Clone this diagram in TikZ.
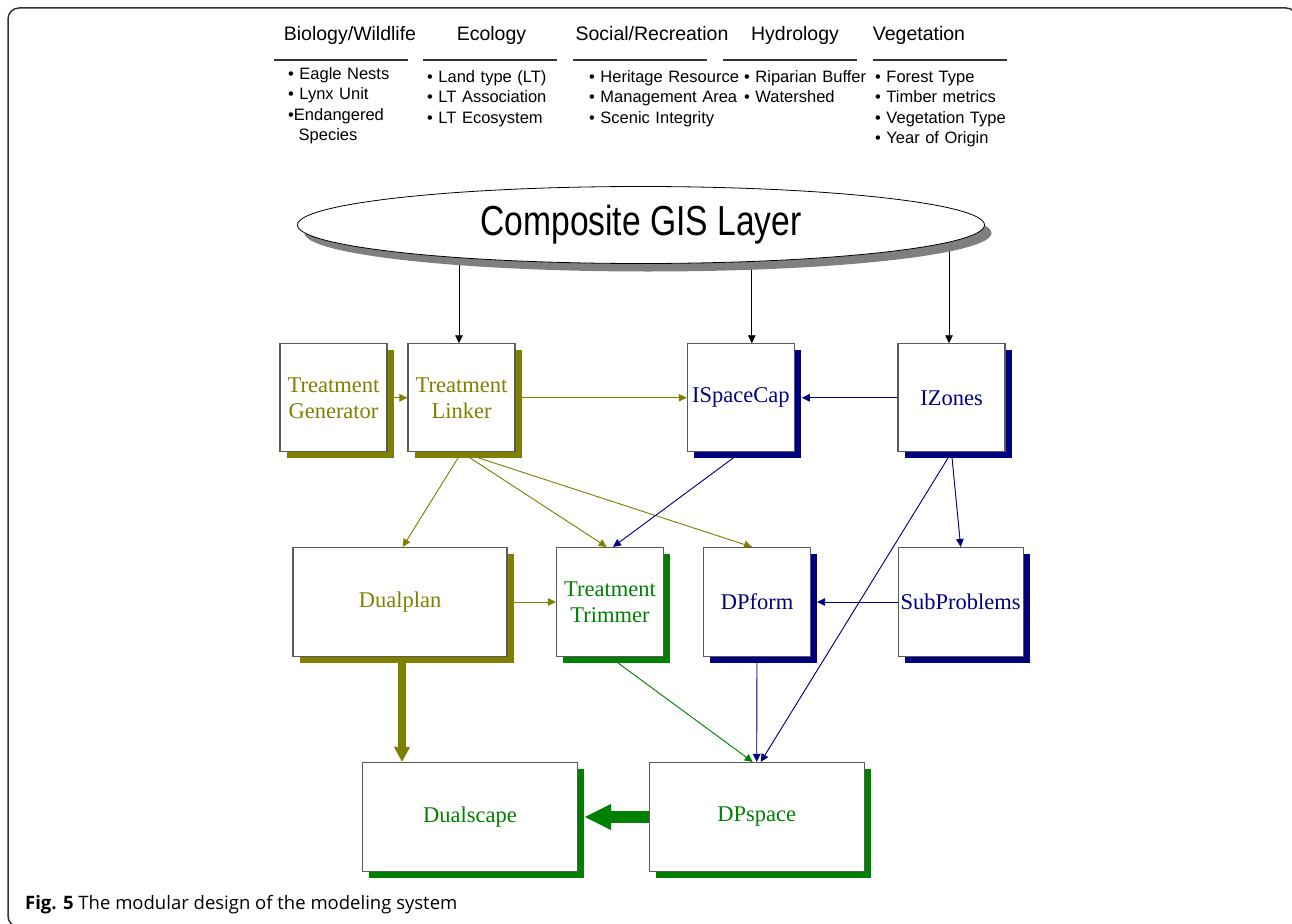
\documentclass[tikz,border=0pt]{standalone}
\usepackage{fontspec}
\setmainfont{Liberation Serif}
\newfontfamily\arialf{Liberation Sans}
\newfontfamily\capf{Open Sans}
\usetikzlibrary{arrows.meta,shapes.geometric,shadows}
\definecolor{olivec}{HTML}{808000}
\definecolor{navyc}{HTML}{000080}
\definecolor{greenc}{HTML}{008000}
\definecolor{framec}{HTML}{333333}
\definecolor{edgec}{HTML}{5A5A5A}
\definecolor{shadowgray}{HTML}{7F7F7F}

\pgfdeclarelayer{links}
\pgfsetlayers{links,main}

\tikzset{
  module/.style={draw=edgec, line width=1.1pt, fill=white, inner sep=0pt,
    minimum width=107pt, minimum height=108pt, align=center,
    font=\fontsize{22.5}{26}\selectfont},
  olivebox/.style={module, text=olivec,
    general shadow={fill=olivec, shadow xshift=6.5pt, shadow yshift=-6.5pt}},
  navybox/.style={module, text=navyc,
    general shadow={fill=navyc, shadow xshift=6.5pt, shadow yshift=-6.5pt}},
  greenbox/.style={module, text=greenc,
    general shadow={fill=greenc, shadow xshift=6.5pt, shadow yshift=-6.5pt}},
  hdr/.style={anchor=base, inner sep=0pt, font=\arialf\fontsize{19.5}{22}\selectfont},
  lst/.style={anchor=base west, inner sep=0pt, text width=150pt, align=left,
    font=\arialf\fontsize{16.5}{20.5}\selectfont},
  rule/.style={draw=framec, line width=1.1pt},
  link/.style={line width=0.9pt, -{Triangle[length=8pt,width=7.5pt]}},
  oliveline/.style={link, draw=olivec, fill=olivec},
  navyline/.style={link, draw=navyc, fill=navyc},
  greenline/.style={link, draw=greenc, fill=greenc},
  blackline/.style={link, draw=black, fill=black},
}

\begin{document}
\begin{tikzpicture}[x=1pt,y=-1pt]
\useasboundingbox (0,0) rectangle (1292,923);
\clip (0,0) rectangle (1292,923);

% outer frame
\draw[framec, line width=1.5pt, rounded corners=11pt] (8,8) rectangle (1297,927);

% data themes
\node[hdr] (hbio) at (350,40.5) {Biology/Wildlife};
\node[hdr] (heco) at (491.5,40.5) {Ecology};
\node[hdr] (hsoc) at (652,40.5) {Social/Recreation};
\node[hdr] (hhyd) at (795,40.5) {Hydrology};
\node[hdr] (hveg) at (919,40.5) {Vegetation};

\draw[rule] (274,60) -- (408,60);
\draw[rule] (423,60) -- (557,60);
\draw[rule] (573,60) -- (707,60);
\draw[rule] (723,60) -- (857,60);
\draw[rule] (873,60) -- (1007,60);

\node[lst] (lbio) at (288,79.5) {• Eagle Nests\\• Lynx Unit\\•Endangered\\\hspace*{10.5pt}Species};
\node[lst] (leco) at (427,82.5) {• Land type (LT)\\• LT Association\\• LT Ecosystem};
\node[lst] (lsoc) at (589,82.5) {• Heritage Resource\\• Management Area\\• Scenic Integrity};
\node[lst, text width=130pt] (lhyd) at (744,82.5) {• Riparian Buffer\\• Watershed};
\node[lst] (lveg) at (875,82.5) {• Forest Type\\• Timber metrics\\• Vegetation Type\\• Year of Origin};

% composite layer
\node[ellipse, draw=black, line width=0.8pt, fill=white, inner sep=0pt,
      minimum width=687pt, minimum height=77pt,
      general shadow={fill=shadowgray, shadow xshift=7pt, shadow yshift=-8pt},
      font=\arialf\fontsize{42}{46}\selectfont] (gis) at (641,225)
      {\scalebox{0.8}[1]{Composite GIS Layer}};

% modules
\node[olivebox] (gen)    at (333.5,397.8) {Treatment\\Generator};
\node[olivebox] (linker) at (461.5,397.8) {Treatment\\Linker};
\node[navybox]  (ispace) at (740.8,397.8) {ISpaceCap};
\node[navybox]  (izones) at (951.5,397.8) {IZones};

\node[olivebox, minimum width=214pt, minimum height=109pt] (dualplan) at (400,602) {Dualplan};
\node[greenbox, minimum height=109pt] (trimmer) at (610,602) {Treatment\\Trimmer};
\node[navybox, minimum height=109pt] (dpform) at (757,602) {DPform};
\node[navybox, minimum width=125pt, minimum height=109pt] (subp) at (960.7,602) {SubProblems};

\node[greenbox, minimum width=215pt, minimum height=109pt] (dualscape) at (470,817) {Dualscape};
\node[greenbox, minimum width=215pt, minimum height=109pt] (dpspace) at (756.7,817) {DPspace};

% connectors, kept underneath the boxes
\begin{pgfonlayer}{links}
  \draw[blackline] ([xshift=-2.5pt]linker.north |- gis.center) -- ([xshift=-2.5pt]linker.north);
  \draw[blackline] ([xshift=11pt]ispace.north |- gis.center) -- ([xshift=11pt]ispace.north);
  \draw[blackline] ([xshift=-2.5pt]izones.north |- gis.center) -- ([xshift=-2.5pt]izones.north);

  \draw[oliveline] (gen.east) -- (linker.west);
  \draw[oliveline] (linker.east) -- (ispace.west);
  \draw[oliveline] (linker.south) -- ([xshift=2.7pt]dualplan.north);
  \draw[oliveline] (linker.south) -- ([xshift=-3.3pt]trimmer.north);
  \draw[oliveline] (linker.south) -- ([xshift=-5pt]dpform.north);
  \draw[oliveline] (dualplan.east) -- (trimmer.west);

  \draw[navyline] (izones.west) -- ([xshift=7pt]ispace.east);
  \draw[navyline] (ispace.south) -- ([xshift=3pt]trimmer.north);
  \draw[navyline] (izones.south) -- (subp.north);
  \draw[navyline] (izones.south) -- ([xshift=4pt]dpspace.north);
  \draw[navyline] (subp.west) -- ([xshift=6pt]dpform.east);
  \draw[navyline] (dpform.south) -- (dpspace.north);

  \draw[greenline] (trimmer.south) -- ([xshift=-4pt]dpspace.north);

  \draw[draw=olivec, fill=olivec, line width=7.5pt,
        -{Triangle[length=15pt,width=15pt]}]
        ([xshift=2pt]dualplan.south) -- ([xshift=2pt]dualplan.south |- dualscape.north);
  \draw[draw=greenc, fill=greenc, line width=11.5pt,
        -{Triangle[length=27pt,width=24pt]}]
        (dpspace.west) -- ([xshift=6pt]dpspace.west -| dualscape.east);
\end{pgfonlayer}

% caption
\node[anchor=base west, inner sep=0pt, font=\capf\fontsize{18.5}{22}\selectfont] (cap) at (25,909.5)
  {\textbf{Fig. 5} The modular design of the modeling system};
\end{tikzpicture}
\end{document}
